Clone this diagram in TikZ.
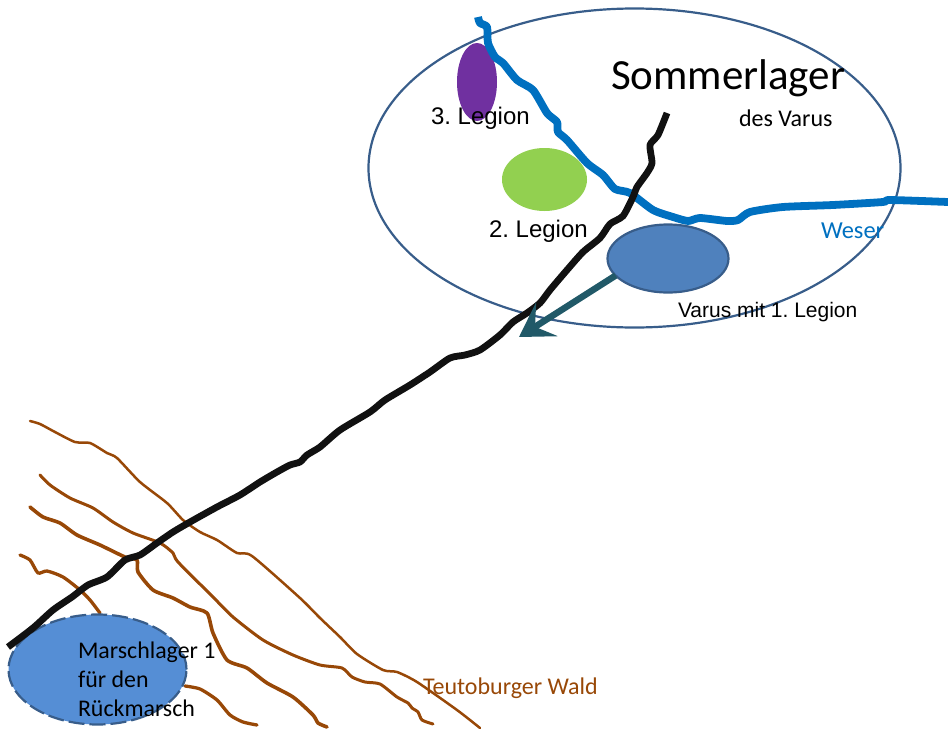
\documentclass[tikz,border=0pt]{standalone}
\usepackage{fontspec}
\setmainfont{Liberation Sans}
\newfontfamily\calib{Carlito}
\usetikzlibrary{arrows.meta,shapes.geometric}
\definecolor{edgeblue}{HTML}{385D8A}
\definecolor{varusfill}{HTML}{4F81BD}
\definecolor{marschfill}{HTML}{558ED5}
\definecolor{legiongreen}{HTML}{92D050}
\definecolor{legionpurple}{HTML}{7030A0}
\definecolor{riverblue}{HTML}{0070C0}
\definecolor{forest}{HTML}{984807}
\definecolor{arrowteal}{HTML}{215968}
\definecolor{roadblack}{HTML}{111111}
\tikzset{
  camp/.style={ellipse,inner sep=0pt,outer sep=0pt},
  label text/.style={inner sep=0pt,outer sep=0pt,anchor=west,text=black},
  ridge/.style={draw=forest,line join=round,line cap=round},
  river/.style={draw=riverblue,line width=7.8pt,line join=round},
  road/.style={draw=roadblack,line width=6.8pt,line join=round},
}
\frenchspacing
\begin{document}
\begin{tikzpicture}[x=1pt,y=-1pt]
\useasboundingbox (0,0) rectangle (948,731);
% summer camp outline
\node[camp,draw=edgeblue,line width=2.2pt,minimum width=532pt,minimum height=319pt] (sommer) at (634.5,168) {};
% forest ridges
\draw[ridge,line width=2.5pt] plot[smooth,tension=0.4] coordinates {(30,421)(40,424)(55,432)(75,442)(90,443)(107,453)(117,458)(140,482)(167,503)(183,520)(200,532)(217,540)(237,553)(252,556)(300,598)(320,618)(340,637)(357,654)(383,670)(397,672)(417,682)(457,710)(480,728)};
\draw[ridge,line width=3pt] plot[smooth,tension=0.4] coordinates {(40,475)(50,485)(70,498)(93,508)(113,522)(133,533)(160,543)(173,553)(178,562)(213,597)(233,617)(263,640)(293,655)(320,665)(342,668)(352,677)(365,682)(380,684)(397,697)(408,703)(412,708)(418,712)(422,720)(433,724)};
\draw[ridge,line width=3.6pt] plot[smooth,tension=0.4] coordinates {(30,507)(43,517)(60,523)(77,535)(100,545)(125,557)(137,560)(138,572)(153,590)(173,598)(190,607)(207,613)(213,633)(227,660)(247,668)(267,683)(293,697)(313,715)(318,723)(327,727)};
\draw[ridge,line width=3.3pt] plot[smooth,tension=0.4] coordinates {(20,555)(30,560)(38,573)(47,571)(63,577)(80,590)(90,600)(100,613)};
\draw[ridge,line width=3.3pt] plot[smooth,tension=0.4] coordinates {(185,686)(200,689)(217,700)(230,715)(243,722)(257,725)};
% legions
\node[camp,fill=legiongreen,minimum width=85pt,minimum height=63pt] (second) at (544.5,179.5) {};
\node[camp,fill=legionpurple,minimum width=40pt,minimum height=78pt] (third) at (477,82) {};
% Weser
\draw[river] plot[smooth,tension=0.4] coordinates {(478,17)(480,23)(487,27)(488,43)(495,57)(503,63)(517,80)(533,90)(547,113)(557,122)(558,132)(567,140)(587,163)(603,175)(615,189)(630,193)(653,210)(673,217)(688,221)(700,218)(727,221)(738,220)(750,212)(783,207)(833,205)(883,202)(890,200)(948,202)};
% Varus and marching camp
\node[camp,draw=edgeblue,line width=2.2pt,fill=varusfill,minimum width=121pt,minimum height=68pt] (varus) at (668,258.5) {};
\node[camp,draw=edgeblue,line width=2.2pt,dash pattern=on 16pt off 5pt,fill=marschfill,minimum width=178pt,minimum height=110pt] (marsch) at (97.5,669.5) {};
% road
\draw[road] plot[smooth,tension=0.4] coordinates {(667,113)(658,135)(650,145)(652,163)(647,173)(637,187)(633,197)(623,216)(610,224)(600,238)(583,252)(567,270)(550,290)(540,303)(527,313)(513,322)(500,335)(480,350)(465,355)(450,358)(430,372)(410,385)(385,400)(370,412)(340,430)(320,447)(307,455)(300,462)(290,465)(277,472)(260,482)(240,495)(217,507)(190,522)(173,532)(157,543)(140,555)(125,560)(107,577)(88,585)(72,597)(53,610)(33,628)(8,647)};
% march direction
\coordinate (target) at (519,337);
\draw[draw=arrowteal,line width=6.5pt,-{Stealth[length=33pt,width=40pt,inset=14pt]}] (varus.198) -- (target);
% labels
\node[label text,font=\calib\fontsize{43}{43}\selectfont] (tsommer) at (611,78) {Sommerlager};
\node[label text,font=\calib\fontsize{24}{24}\selectfont] (tdes) at (739,118.5) {des Varus};
\node[label text,font=\fontsize{24}{24}\selectfont] (tthird) at (431,118) {3. Legion};
\node[label text,font=\fontsize{24}{24}\selectfont] (tsecond) at (489,231) {2. Legion};
\node[label text,font=\fontsize{21}{21}\selectfont] (tvarus) at (678,312) {Varus mit 1. Legion};
\node[label text,text=riverblue,font=\calib\fontsize{24.4}{24.4}\selectfont] (tweser) at (821,230.5) {Weser};
\node[label text,text=forest,font=\calib\fontsize{24}{24}\selectfont] (twald) at (423,688.5) {Teutoburger Wald};
\node[label text,align=left,font=\calib\fontsize{23.9}{29}\selectfont] (tmarsch) at (78,679.5) {Marschlager 1\\für den\\Rückmarsch};
\end{tikzpicture}
\end{document}
